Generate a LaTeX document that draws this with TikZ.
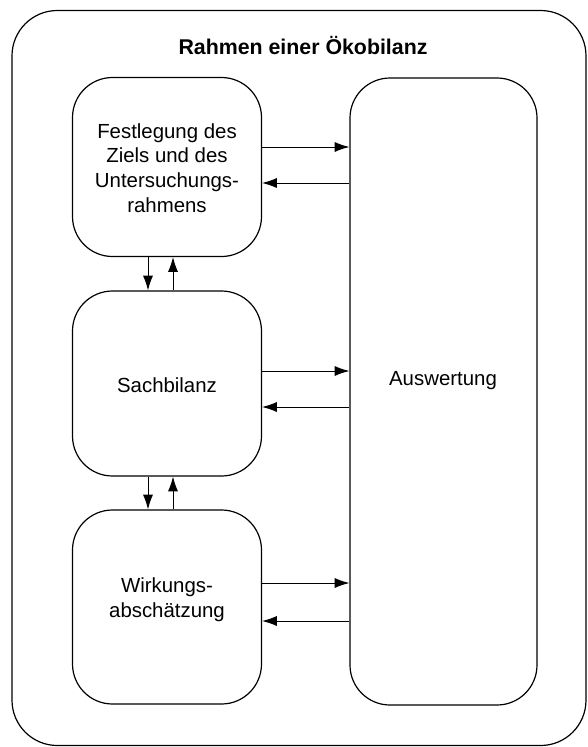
\documentclass[tikz,border=0pt]{standalone}
\usepackage{fontspec}
\setmainfont{Liberation Sans}
\usetikzlibrary{arrows.meta}
\begin{document}
\begin{tikzpicture}[x=0.75pt,y=-0.75pt,
  phase/.style={draw, line width=0.9pt, rounded corners=30pt, inner sep=0pt},
  phasetext/.style={align=center, font=\fontsize{15.3}{18.6}\selectfont, inner sep=0pt},
  flow/.style={line width=0.7pt, -{Latex[length=11pt,width=7.5pt]}},
]
\useasboundingbox (0,0) rectangle (587,747);
% outer frame
\node[draw, line width=0.9pt, rounded corners=34pt, minimum width=574*0.75pt,
  minimum height=735*0.75pt, inner sep=0pt] (frame) at (299,378) {};
\node[font=\bfseries\fontsize{16}{18}\selectfont] (title) at (303,45) {Rahmen einer Ökobilanz};
% phases
\node[phase, minimum width=189*0.75pt, minimum height=179*0.75pt] (ziel) at (167,167) {};
\node[phase, minimum width=189*0.75pt, minimum height=185*0.75pt] (sach) at (167,383.5) {};
\node[phase, minimum width=189*0.75pt, minimum height=194*0.75pt] (wirk) at (167,607) {};
\node[phase, minimum width=187*0.75pt, minimum height=627*0.75pt] (ausw) at (443.5,391.5) {};
% phase labels
\node[phasetext] (zieltext) at (167,168) {Festlegung des\\Ziels und des\\Untersuchungs-\\rahmens};
\node[phasetext] (sachtext) at (167,385) {Sachbilanz};
\node[phasetext] (wirktext) at (167,600) {Wirkungs-\\abschätzung};
\node[phasetext] (auswtext) at (443,381) {Auswertung};
% links between phases
\draw[flow] (ziel.south -| 148,0) -- (sach.north -| 148,0);
\draw[flow] (sach.north -| 173,0) -- (ziel.south -| 173,0);
\draw[flow] (sach.south -| 148,0) -- (wirk.north -| 148,0);
\draw[flow] (wirk.north -| 173,0) -- (sach.south -| 173,0);
% links to the interpretation phase
\draw[flow] (ziel.east |- 0,147) -- (ausw.west |- 0,147);
\draw[flow] (ausw.west |- 0,183) -- (ziel.east |- 0,183);
\draw[flow] (sach.east |- 0,371) -- (ausw.west |- 0,371);
\draw[flow] (ausw.west |- 0,407) -- (sach.east |- 0,407);
\draw[flow] (wirk.east |- 0,583) -- (ausw.west |- 0,583);
\draw[flow] (ausw.west |- 0,621) -- (wirk.east |- 0,621);
\end{tikzpicture}
\end{document}
